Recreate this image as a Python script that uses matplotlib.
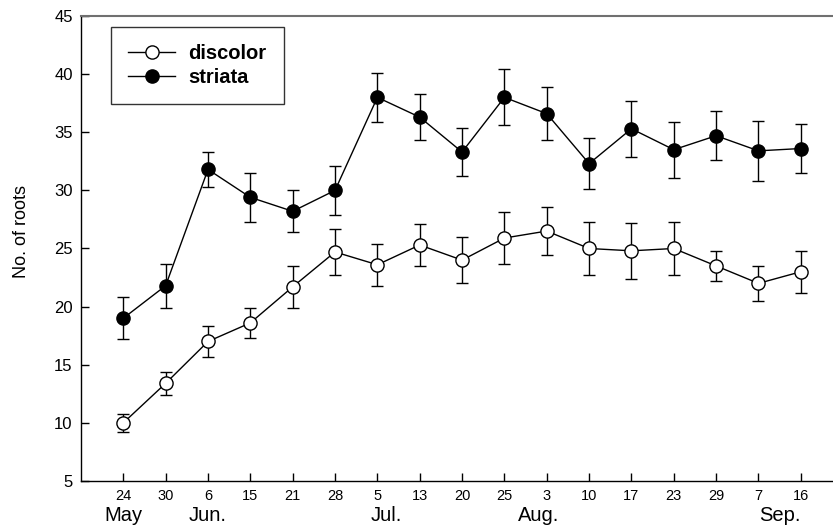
import numpy as np
import matplotlib
matplotlib.use('Agg')
import matplotlib.pyplot as plt
import matplotlib.transforms as mtransforms
from matplotlib.lines import Line2D

plt.rcParams['font.family'] = ['Liberation Sans', 'DejaVu Sans']

# sampling dates (day of month) and the month headings below them
days = ['24', '30', '6', '15', '21', '28', '5', '13', '20', '25',
        '3', '10', '17', '23', '29', '7', '16']
months = ['May', 'Jun.', 'Jul.', 'Aug.', 'Sep.']
month_pos = [0, 2, 6.2, 9.8, 15.5]

# mean number of roots and standard error
discolor = [10.0, 13.4, 17.0, 18.6, 21.7, 24.7, 23.6, 25.3, 24.0, 25.9,
            26.5, 25.0, 24.8, 25.0, 23.5, 22.0, 23.0]
discolor_err = [0.8, 1.0, 1.3, 1.3, 1.8, 2.0, 1.8, 1.8, 2.0, 2.2,
                2.1, 2.3, 2.4, 2.3, 1.3, 1.5, 1.8]
striata = [19.0, 21.8, 31.8, 29.4, 28.2, 30.0, 38.0, 36.3, 33.3, 38.0,
           36.6, 32.3, 35.3, 33.5, 34.7, 33.4, 33.6]
striata_err = [1.8, 1.9, 1.5, 2.1, 1.8, 2.1, 2.1, 2.0, 2.1, 2.4,
               2.3, 2.2, 2.4, 2.4, 2.1, 2.6, 2.1]

x = np.arange(len(days))

fig = plt.figure(figsize=(8.33, 5.3), dpi=100)
ax = fig.add_axes([0.0972, 0.0925, 0.9028, 0.8773])

common = dict(color='k', lw=1.0, ms=9.5, mew=1.0, mec='k',
              ecolor='k', elinewidth=1.0, capsize=4.6, capthick=1.0)
ax.errorbar(x, discolor, yerr=discolor_err, fmt='-o', mfc='white', **common)
ax.errorbar(x, striata, yerr=striata_err, fmt='-o', mfc='k', **common)

ax.set_xlim(-1, 16.76)
ax.set_ylim(5, 45)
ax.set_xticks(x)
ax.set_xticklabels(days)
ax.set_yticks(np.arange(5, 46, 5))

ax.spines['right'].set_visible(False)
for s in ['left', 'bottom']:
    ax.spines[s].set_linewidth(1.0)
ax.spines['top'].set_linewidth(1.5)
ax.spines['top'].set_color('#707070')
ax.tick_params(axis='both', direction='in', length=6, width=1.0)
ax.tick_params(axis='x', labelsize=10.5, pad=6)
ax.tick_params(axis='y', labelsize=12, pad=6)

# month names under the day ticks
trans = mtransforms.blended_transform_factory(ax.transData, ax.transAxes)
for name, pos in zip(months, month_pos):
    ax.text(pos, -0.074, name, transform=trans, ha='center', va='center',
            fontsize=14.5)

fig.text(0.026, 0.564, 'No. of roots', rotation=90, ha='center',
         va='center', fontsize=13)

handles = [
    Line2D([], [], color='k', lw=1.0, marker='o', ms=9.5, mfc='white', mec='k'),
    Line2D([], [], color='k', lw=1.0, marker='o', ms=9.5, mfc='k', mec='k'),
]
leg = ax.legend(handles, ['discolor', 'striata'], loc='upper left',
                bbox_to_anchor=(0.0399, 0.976), frameon=True,
                fancybox=False, edgecolor='k', borderpad=0.85,
                handlelength=2.35, handletextpad=0.65, labelspacing=0.25,
                borderaxespad=0, prop={'weight': 'bold', 'size': 14.5})
leg.get_frame().set_linewidth(1.0)

fig.savefig('out.png', dpi=100)
